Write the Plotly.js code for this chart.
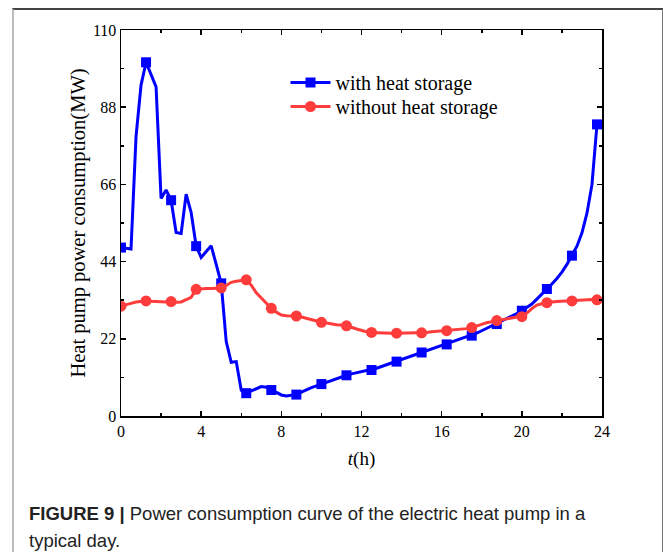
<!DOCTYPE html>
<html>
<head>
<meta charset="utf-8">
<script src="https://cdn.plot.ly/plotly-3.0.1.min.js"></script>
<style>
  html, body { margin: 0; padding: 0; background: #fff; }
  #wrap { position: relative; width: 663px; height: 552px; overflow: hidden; }
  #chart { position: absolute; left: 0; top: 0; width: 663px; height: 552px; }
  #frame { position: absolute; left: 12px; top: 8px; width: 648px; height: 560px;
           border-top: 2px solid #444; border-left: 2px solid #bbb; border-right: 2px solid #777;
           pointer-events: none; }
</style>
</head>
<body>
<div id="wrap">
  <div id="chart"></div>
  <div id="frame"></div>
</div>
<script>
// time of day (h), 15-minute resolution
const hours = [
  0, 0.25, 0.5, 0.75, 1, 1.25, 1.5, 1.75, 2, 2.25, 2.5, 2.75,
  3, 3.25, 3.5, 3.75, 4, 4.25, 4.5, 4.75, 5, 5.25, 5.5, 5.75,
  6, 6.25, 6.5, 6.75, 7, 7.25, 7.5, 7.75, 8, 8.25, 8.5, 8.75,
  9, 9.25, 9.5, 9.75, 10, 10.25, 10.5, 10.75, 11, 11.25, 11.5, 11.75,
  12, 12.25, 12.5, 12.75, 13, 13.25, 13.5, 13.75, 14, 14.25, 14.5, 14.75,
  15, 15.25, 15.5, 15.75, 16, 16.25, 16.5, 16.75, 17, 17.25, 17.5, 17.75,
  18, 18.25, 18.5, 18.75, 19, 19.25, 19.5, 19.75, 20, 20.25, 20.5, 20.75,
  21, 21.25, 21.5, 21.75, 22, 22.25, 22.5, 22.75, 23, 23.25, 23.5, 23.75
];

// heat pump power consumption with heat storage (MW)
const withStorage = [
  48.0, 47.7, 47.6, 79.6, 94.3, 100.8, 97.3, 93.8, 62.0, 64.4, 61.5, 52.3,
  52.0, 63.2, 58.0, 48.4, 45.2, 46.8, 48.5, 43.2, 37.8, 21.2, 15.3, 15.5,
  7.3, 6.5, 7.1, 7.9, 8.4, 8.2, 7.4, 6.6, 6.0, 5.7, 5.8, 6.1,
  6.8, 7.5, 8.1, 8.6, 9.1, 9.7, 10.3, 10.8, 11.2, 11.6, 12.0, 12.3,
  12.6, 12.9, 13.1, 13.6, 14.1, 14.6, 15.1, 15.5, 16.0, 16.6, 17.1, 17.6,
  18.1, 18.6, 19.1, 19.5, 20.0, 20.4, 20.9, 21.4, 21.9, 22.4, 22.9, 23.6,
  24.3, 25.0, 25.6, 26.2, 26.9, 27.6, 28.4, 29.2, 30.0, 30.9, 31.9, 33.3,
  34.7, 36.2, 37.6, 39.2, 41.0, 43.2, 45.7, 48.4, 52.2, 57.8, 66.0, 83.1
];

// heat pump power consumption without heat storage (MW)
const withoutStorage = [
  31.3, 31.6, 32.1, 32.5, 32.7, 32.8, 32.7, 32.6, 32.5, 32.5, 32.6, 32.4,
  32.5, 33.1, 33.8, 36.1, 36.3, 36.3, 36.3, 36.4, 36.5, 37.2, 38.1, 38.4,
  38.6, 38.8, 37.3, 35.1, 33.6, 32.2, 30.7, 29.6, 28.8, 28.6, 28.6, 28.5,
  28.2, 27.8, 27.4, 27.0, 26.7, 26.5, 26.2, 26.0, 25.9, 25.7, 25.3, 24.8,
  24.3, 24.0, 23.8, 23.7, 23.7, 23.6, 23.6, 23.6, 23.6, 23.6, 23.6, 23.7,
  23.7, 23.8, 24.0, 24.1, 24.2, 24.3, 24.4, 24.5, 24.7, 24.9, 25.2, 25.7,
  26.2, 26.6, 26.9, 27.2, 27.5, 27.8, 28.1, 28.2, 28.3, 29.3, 30.6, 31.6,
  32.0, 32.3, 32.5, 32.6, 32.7, 32.7, 32.8, 33.0, 33.1, 33.2, 33.2, 33.1
];

const seriesNames = ['with heat storage', 'without heat storage'];
const xTickVals = [0, 4, 8, 12, 16, 20, 24];
const yTickVals = [0, 22, 44, 66, 88, 110];

const BLUE = '#0000ff';
const RED = '#ff3c3c';
const CLEAR = 'rgba(0,0,0,0)';
// a marker on every 5th sample (every 1.25 h)
function markerColors(color) {
  return hours.map((_, i) => (i % 5 === 0 ? color : CLEAR));
}

const serif = 'Liberation Serif, Times New Roman, serif';
const sans = 'Liberation Sans, Arial, sans-serif';

const traces = [
  {
    x: hours, y: withStorage, name: seriesNames[0], type: 'scatter', mode: 'lines+markers',
    legend: 'legend',
    line: { color: BLUE, width: 3 },
    marker: { symbol: 'square', size: 10, color: markerColors(BLUE), line: { width: 0 } }
  },
  {
    x: hours, y: withoutStorage, name: seriesNames[1], type: 'scatter', mode: 'lines+markers',
    legend: 'legend2',
    line: { color: RED, width: 3 },
    marker: { symbol: 'circle', size: 11, color: markerColors(RED), line: { width: 0 } }
  }
];

const axisCommon = {
  showline: true, linecolor: '#000', linewidth: 1.5, mirror: 'allticks',
  ticks: 'inside', ticklen: 5, tickwidth: 1.5, tickcolor: '#000',
  showgrid: false, zeroline: false,
  tickfont: { family: serif, size: 16, color: '#000' }
};

const legendCommon = {
  x: 0.342, xanchor: 'left', yanchor: 'top',
  bgcolor: 'rgba(0,0,0,0)', borderwidth: 0,
  font: { family: serif, size: 20, color: '#000' },
  itemwidth: 40
};

const layout = {
  width: 663, height: 552,
  margin: { l: 121, r: 61, t: 30, b: 136 },
  paper_bgcolor: '#fff', plot_bgcolor: '#fff',
  showlegend: true,
  legend: Object.assign({}, legendCommon, { y: 0.9145 }),
  legend2: Object.assign({}, legendCommon, { y: 0.8523 }),
  xaxis: Object.assign({}, axisCommon, {
    range: [0, 24], tickvals: xTickVals, ticktext: xTickVals.map(String),
    minor: { dtick: 2, ticks: 'inside', ticklen: 3, tickwidth: 1.5, tickcolor: '#000' },
    title: { text: '<i>t</i>(h)', font: { family: serif, size: 19, color: '#000' }, standoff: 13 }
  }),
  yaxis: Object.assign({}, axisCommon, {
    range: [0, 110], tickvals: yTickVals, ticktext: yTickVals.map(String),
    minor: { dtick: 11, ticks: 'inside', ticklen: 3, tickwidth: 1.5, tickcolor: '#000' },
    title: { text: 'Heat pump power consumption(MW)', font: { family: serif, size: 20.5, color: '#000' }, standoff: 1 }
  }),
  annotations: [
    {
      xref: 'paper', yref: 'paper', x: (27 - 121) / 481, y: (416 - 501) / 386,
      xanchor: 'left', yanchor: 'top', showarrow: false, align: 'left',
      text: '<b>FIGURE 9 |</b> Power consumption curve of the electric heat pump in a',
      font: { family: sans, size: 18.5, color: '#222' }
    },
    {
      xref: 'paper', yref: 'paper', x: (27 - 121) / 481, y: (416 - 528) / 386,
      xanchor: 'left', yanchor: 'top', showarrow: false, align: 'left',
      text: 'typical day.',
      font: { family: sans, size: 18.5, color: '#222' }
    }
  ]
};

Plotly.newPlot('chart', traces, layout, { displayModeBar: false, staticPlot: true });
</script>
</body>
</html>
